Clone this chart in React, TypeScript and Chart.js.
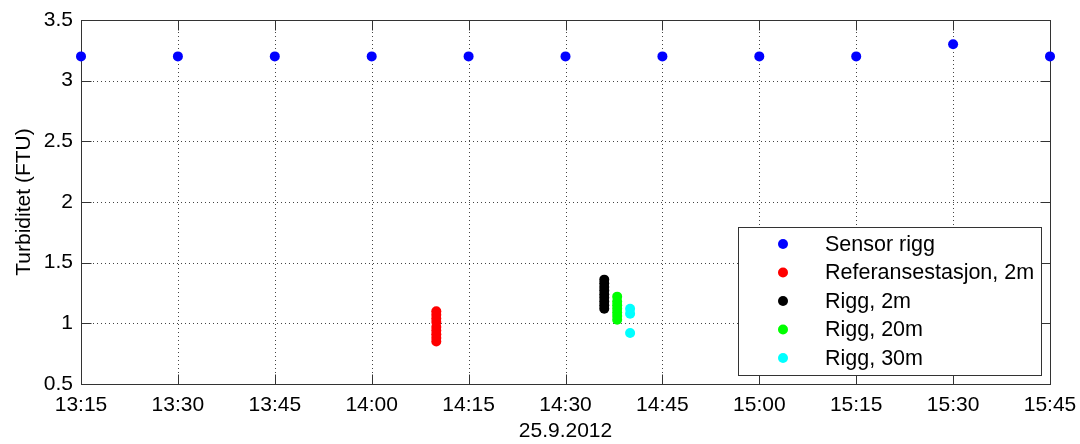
import React, { useEffect, useRef } from 'react';
import { Chart, registerables } from 'chart.js';

Chart.register(...registerables);

// ---- data ----
const xTickMinutes = [795, 810, 825, 840, 855, 870, 885, 900, 915, 930, 945];
const xTickLabels = ['13:15', '13:30', '13:45', '14:00', '14:15', '14:30', '14:45', '15:00', '15:15', '15:30', '15:45'];
const yTicks = [0.5, 1, 1.5, 2, 2.5, 3, 3.5];

const sensorTimes = [795, 810, 825, 840, 855, 870, 885, 900, 915, 930, 945];
const sensorValues = [3.2, 3.2, 3.2, 3.2, 3.2, 3.2, 3.2, 3.2, 3.2, 3.3, 3.2];

const refTime = 850;
const refValues = [1.1, 1.07, 1.04, 1.01, 0.97, 0.94, 0.91, 0.88, 0.85];

const rigg2Time = 876;
const rigg2Values = [1.12, 1.15, 1.18, 1.21, 1.24, 1.27, 1.3, 1.33, 1.36];

const rigg20Time = 878;
const rigg20Values = [1.03, 1.06, 1.09, 1.12, 1.15, 1.18, 1.22];

const rigg30Time = 880;
const rigg30Values = [1.12, 1.08, 0.92];

const seriesNames = ['Sensor rigg', 'Referansestasjon, 2m', 'Rigg, 2m', 'Rigg, 20m', 'Rigg, 30m'];
const seriesColors = ['#0000ff', '#ff0000', '#000000', '#00ff00', '#00ffff'];

const xTitle = '25.9.2012';
const yTitle = 'Turbiditet (FTU)';

const FONT = "'Liberation Sans', Arial, sans-serif";

const axesPlugin = {
  id: 'matlabAxes',
  beforeDatasetsDraw(chart: any) {
    const { ctx, chartArea, scales } = chart;
    const { left, right, top, bottom } = chartArea;
    const x = scales.x;
    const y = scales.y;
    ctx.save();
    ctx.lineWidth = 1;
    // dotted grid
    ctx.strokeStyle = '#444444';
    ctx.setLineDash([1, 3]);
    x.ticks.forEach((t: any) => {
      const px = Math.round(x.getPixelForValue(t.value)) + 0.5;
      if (px > left + 2 && px < right - 2) {
        ctx.beginPath();
        ctx.moveTo(px, top);
        ctx.lineTo(px, bottom);
        ctx.stroke();
      }
    });
    y.ticks.forEach((t: any) => {
      const py = Math.round(y.getPixelForValue(t.value)) + 0.5;
      if (py > top + 2 && py < bottom - 2) {
        ctx.beginPath();
        ctx.moveTo(left, py);
        ctx.lineTo(right, py);
        ctx.stroke();
      }
    });
    ctx.setLineDash([]);
    // box
    ctx.strokeStyle = '#333333';
    const l = Math.round(left) + 0.5;
    const r = Math.round(right) + 0.5;
    const tp = Math.round(top) + 0.5;
    const b = Math.round(bottom) + 0.5;
    ctx.strokeRect(l, tp, r - l, b - tp);
    // inward ticks
    const len = 10;
    x.ticks.forEach((t: any) => {
      const px = Math.round(x.getPixelForValue(t.value)) + 0.5;
      ctx.beginPath();
      ctx.moveTo(px, b);
      ctx.lineTo(px, b - len);
      ctx.moveTo(px, tp);
      ctx.lineTo(px, tp + len);
      ctx.stroke();
    });
    y.ticks.forEach((t: any) => {
      const py = Math.round(y.getPixelForValue(t.value)) + 0.5;
      ctx.beginPath();
      ctx.moveTo(l, py);
      ctx.lineTo(l + len, py);
      ctx.moveTo(r, py);
      ctx.lineTo(r - len, py);
      ctx.stroke();
    });
    ctx.restore();
  },
  afterDatasetsDraw(chart: any) {
    const { ctx } = chart;
    const bx = 738.5, by = 227.5, bw = 303, bh = 148;
    ctx.save();
    ctx.fillStyle = '#ffffff';
    ctx.fillRect(bx, by, bw, bh);
    ctx.strokeStyle = '#333333';
    ctx.lineWidth = 1;
    ctx.strokeRect(bx, by, bw, bh);
    ctx.font = `21.5px ${FONT}`;
    ctx.textBaseline = 'middle';
    ctx.textAlign = 'left';
    chart.data.datasets.forEach((ds: any, i: number) => {
      const cy = 244 + i * 28.5;
      ctx.fillStyle = ds.backgroundColor;
      ctx.beginPath();
      ctx.arc(783, cy, 5, 0, Math.PI * 2);
      ctx.fill();
      ctx.fillStyle = '#000000';
      ctx.fillText(ds.label, 825, cy + 1);
    });
    ctx.restore();
  },
};

export default function App() {
  const canvasRef = useRef<HTMLCanvasElement | null>(null);

  useEffect(() => {
    if (!canvasRef.current) return;
    const mk = (times: number[] | number, values: number[]) =>
      values.map((v, i) => ({ x: Array.isArray(times) ? times[i] : times, y: v }));
    const dataSets = [
      mk(sensorTimes, sensorValues),
      mk(refTime, refValues),
      mk(rigg2Time, rigg2Values),
      mk(rigg20Time, rigg20Values),
      mk(rigg30Time, rigg30Values),
    ];
    const chart = new Chart(canvasRef.current, {
      type: 'scatter',
      data: {
        datasets: dataSets.map((d, i) => ({
          label: seriesNames[i],
          data: d,
          backgroundColor: seriesColors[i],
          borderColor: seriesColors[i],
          borderWidth: 0,
          pointRadius: 5,
          pointHoverRadius: 5,
          showLine: false,
          clip: false as any,
        })),
      },
      options: {
        responsive: false,
        maintainAspectRatio: false,
        animation: false,
        events: [],
        layout: { padding: { left: 0, right: 30, top: 20, bottom: 0 } },
        plugins: {
          legend: { display: false },
          tooltip: { enabled: false },
        },
        scales: {
          x: {
            type: 'linear',
            min: xTickMinutes[0],
            max: xTickMinutes[xTickMinutes.length - 1],
            afterBuildTicks: (scale: any) => {
              scale.ticks = xTickMinutes.map((v) => ({ value: v }));
            },
            afterFit: (scale: any) => {
              scale.height = 60;
              scale.paddingLeft = 0;
              scale.paddingRight = 0;
            },
            ticks: {
              autoSkip: false,
              maxRotation: 0,
              padding: 9,
              color: '#000000',
              font: { family: FONT, size: 21 },
              callback: (value: any) => {
                const idx = xTickMinutes.indexOf(Number(value));
                return idx >= 0 ? xTickLabels[idx] : '';
              },
            },
            grid: { display: false, drawTicks: false, tickLength: 0 },
            border: { display: false },
            title: {
              display: true,
              text: xTitle,
              color: '#000000',
              font: { family: FONT, size: 21 },
              padding: { top: 0, bottom: 0 },
            },
          },
          y: {
            type: 'linear',
            min: yTicks[0],
            max: yTicks[yTicks.length - 1],
            afterBuildTicks: (scale: any) => {
              scale.ticks = yTicks.map((v) => ({ value: v }));
            },
            afterFit: (scale: any) => {
              scale.width = 81;
              scale.paddingTop = 0;
              scale.paddingBottom = 0;
            },
            ticks: {
              autoSkip: false,
              padding: 8,
              color: '#000000',
              font: { family: FONT, size: 21 },
              callback: (value: any) => String(value),
            },
            grid: { display: false, drawTicks: false, tickLength: 0 },
            border: { display: false },
            title: {
              display: true,
              text: yTitle,
              color: '#000000',
              font: { family: FONT, size: 21 },
              padding: { top: 12, bottom: 0 },
            },
          },
        },
      },
      plugins: [axesPlugin],
    } as any);
    return () => chart.destroy();
  }, []);

  return (
    <div style={{ position: 'absolute', left: 0, top: 0, width: 1080, height: 444, background: '#ffffff' }}>
      <canvas ref={canvasRef} width={1080} height={444} style={{ display: 'block' }} />
    </div>
  );
}
